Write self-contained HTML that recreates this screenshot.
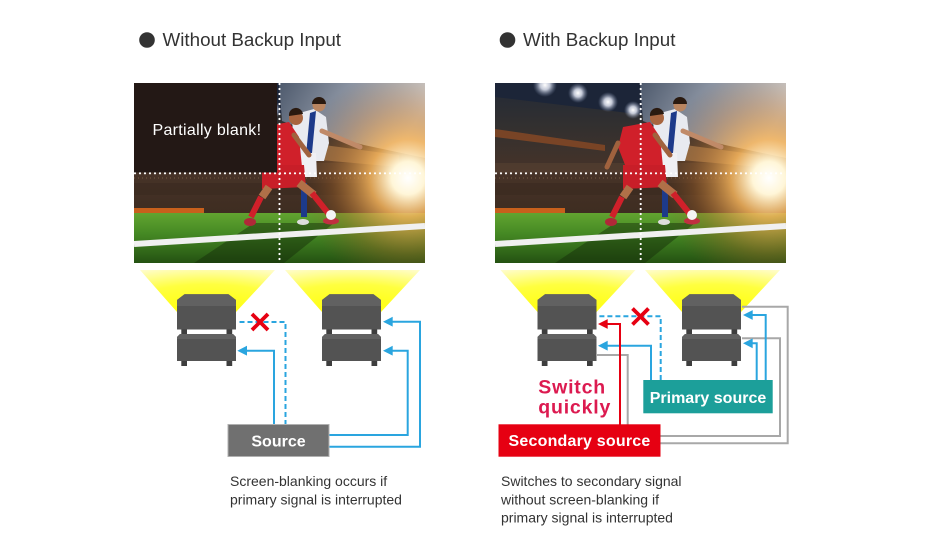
<!DOCTYPE html>
<html><head><meta charset="utf-8">
<style>
html,body{margin:0;padding:0;background:#fff;}
svg{display:block;}
text{font-family:"Liberation Sans",Arial,sans-serif;}
</style></head><body>
<svg width="926" height="550" viewBox="0 0 926 550" xmlns="http://www.w3.org/2000/svg">
<defs>
 <linearGradient id="stand" x1="0" y1="0" x2="0" y2="1">
  <stop offset="0" stop-color="#222a38"/>
  <stop offset="0.25" stop-color="#33302f"/>
  <stop offset="0.5" stop-color="#473328"/>
  <stop offset="0.75" stop-color="#3d2c20"/>
  <stop offset="1" stop-color="#30231a"/>
 </linearGradient>
 <linearGradient id="sky" x1="0" y1="0" x2="1" y2="0.3">
  <stop offset="0" stop-color="#4e5a6d"/>
  <stop offset="0.5" stop-color="#9098a6"/>
  <stop offset="1" stop-color="#dadcde"/>
 </linearGradient>
 <radialGradient id="sun" cx="274" cy="95" r="110" gradientUnits="userSpaceOnUse">
  <stop offset="0" stop-color="#ffffff"/>
  <stop offset="0.15" stop-color="#fff6d8"/>
  <stop offset="0.35" stop-color="#f3b25a" stop-opacity="0.85"/>
  <stop offset="0.7" stop-color="#b06a2a" stop-opacity="0.35"/>
  <stop offset="1" stop-color="#7a4a20" stop-opacity="0"/>
 </radialGradient>
 <linearGradient id="grass" x1="0" y1="0" x2="0" y2="1">
  <stop offset="0" stop-color="#62a430"/>
  <stop offset="0.4" stop-color="#468a24"/>
  <stop offset="1" stop-color="#245212"/>
 </linearGradient>
 <radialGradient id="lamp">
  <stop offset="0" stop-color="#ffffff"/>
  <stop offset="0.4" stop-color="#eef2ff" stop-opacity="0.8"/>
  <stop offset="1" stop-color="#8090b0" stop-opacity="0"/>
 </radialGradient>
 <radialGradient id="beamg" cx="0.5" cy="1" r="1.2">
  <stop offset="0" stop-color="#ffff00"/>
  <stop offset="0.55" stop-color="#ffff40"/>
  <stop offset="1" stop-color="#fffce8"/>
 </radialGradient>
 <clipPath id="pc"><rect width="291" height="180"/></clipPath>

 <g id="photo">
  <g clip-path="url(#pc)">
   <rect width="291" height="180" fill="url(#stand)"/>
   <polygon points="0,0 150,0 150,32 0,14" fill="#1c2538"/>
   <polygon points="145,0 291,0 291,75 230,62 175,48 148,38" fill="url(#sky)"/>
   <polygon points="0,46 110,62 110,68 0,54" fill="#8a4a24" opacity="0.8"/>
   <rect x="0" y="80" width="291" height="10" fill="#5a4434" opacity="0.5"/>
   <line x1="0" y1="95" x2="291" y2="95" stroke="#a08060" stroke-width="1" stroke-dasharray="1 3" opacity="0.5"/>
   <rect x="0" y="100" width="291" height="12" fill="#3a2a20" opacity="0.6"/>
   <polygon points="175,60 265,72 265,84 175,76" fill="#8c6a48"/>
   <rect x="0" y="125" width="70" height="5" fill="#c8601c"/>
   <rect x="0" y="130" width="291" height="50" fill="url(#grass)"/>
   <rect width="291" height="180" fill="url(#sun)"/>
   <polygon points="60,180 120,140 200,140 150,180" fill="#142a08" opacity="0.45"/>
   <path d="M0,161 L291,143" stroke="#f0f0f0" stroke-width="6"/>
   <circle cx="50" cy="2" r="12" fill="url(#lamp)"/>
   <circle cx="83" cy="10" r="10" fill="url(#lamp)"/>
   <circle cx="113" cy="19" r="10" fill="url(#lamp)"/>
   <circle cx="138" cy="27" r="9" fill="url(#lamp)"/>
   <!-- white player -->
   <polygon points="158,32 180,26 192,34 195,60 190,78 160,78" fill="#e8eaf0"/>
   <polygon points="176,30 182,28 178,70 172,72" fill="#1d3a8a"/>
   <path d="M188,48 L226,64" stroke="#c08a68" stroke-width="5" stroke-linecap="round"/>
   <circle cx="185" cy="22" r="6.5" fill="#b98560"/>
   <path d="M178,21 a7,7 0 0 1 14,0 z" fill="#2a1a10"/>
   <polygon points="158,70 182,70 183,94 160,94" fill="#f0f0f4"/>
   <rect x="167" y="100" width="6" height="34" fill="#1d3a8a"/>
   <ellipse cx="169" cy="139" rx="6" ry="3" fill="#dddddd"/>
   <!-- red player -->
   <polygon points="128,44 155,39 165,54 168,84 132,87 123,64" fill="#d0202a"/>
   <path d="M123,60 L112,84" stroke="#a0623e" stroke-width="5" stroke-linecap="round"/>
   <path d="M160,52 L175,72" stroke="#a0623e" stroke-width="5" stroke-linecap="round"/>
   <circle cx="162" cy="35" r="7" fill="#a8653f"/>
   <path d="M155,33 a7,7 0 0 1 14,-2 z" fill="#2a1a10"/>
   <polygon points="128,82 170,82 172,104 128,106" fill="#c81e28"/>
   <path d="M165,100 L180,112" stroke="#b07048" stroke-width="8"/>
   <path d="M135,104 L128,114" stroke="#b07048" stroke-width="8"/>
   <path d="M178,110 L198,135" stroke="#d0202a" stroke-width="6"/>
   <path d="M127,114 L117,134" stroke="#d0202a" stroke-width="6"/>
   <ellipse cx="197" cy="138" rx="8" ry="3.5" fill="#c03040"/>
   <ellipse cx="116" cy="139" rx="6" ry="4" fill="#b02838"/>
   <circle cx="197" cy="132" r="5" fill="#f4f4f4"/>
  </g>
 </g>

 <g id="beam">
  <polygon points="-37,270 98,270 59,312 0,312" fill="url(#beamg)"/>
 </g>

 <g id="proj">
  <polygon points="7.5,294.3 51.5,294.3 59,300 59,329.5 0,329.5 0,300" fill="#535353"/>
  <polygon points="7.5,294.3 51.5,294.3 59,300 59,306 0,306 0,300" fill="#616161"/>
  <rect x="4.3" y="329.5" width="5.7" height="4.5" fill="#3e3e3e"/>
  <rect x="49.5" y="329.5" width="5.7" height="4.5" fill="#3e3e3e"/>
  <polygon points="3,334 56,334 59,337 59,361 0,361 0,337" fill="#535353"/>
  <polygon points="3,334 56,334 59,337 59,339 0,339 0,337" fill="#616161"/>
  <rect x="4.3" y="361" width="5.7" height="5" fill="#3e3e3e"/>
  <rect x="49.5" y="361" width="5.7" height="5" fill="#3e3e3e"/>
 </g>
</defs>

<!-- Titles -->
<circle cx="147" cy="40" r="7.8" fill="#333"/>
<text x="162.5" y="46" font-size="18.8" fill="#333">Without Backup Input</text>
<circle cx="507.5" cy="40" r="7.8" fill="#333"/>
<text x="523" y="46" font-size="18.8" fill="#333">With Backup Input</text>

<!-- Left image -->
<use href="#photo" transform="translate(134,83)"/>
<rect x="134" y="83" width="143" height="89.5" fill="#231815"/>
<text x="152.5" y="135" font-size="16" fill="#fff" letter-spacing="0.3">Partially blank!</text>
<line x1="135" y1="173.3" x2="425" y2="173.3" stroke="#fff" stroke-width="2.2" stroke-linecap="round" stroke-dasharray="0 5"/>
<line x1="279.5" y1="84" x2="279.5" y2="263" stroke="#fff" stroke-width="2.2" stroke-linecap="round" stroke-dasharray="0 5"/>

<!-- Right image -->
<use href="#photo" transform="translate(495,83)"/>
<line x1="496" y1="173.3" x2="786" y2="173.3" stroke="#fff" stroke-width="2.2" stroke-linecap="round" stroke-dasharray="0 5"/>
<line x1="640.7" y1="84" x2="640.7" y2="263" stroke="#fff" stroke-width="2.2" stroke-linecap="round" stroke-dasharray="0 5"/>

<!-- Beams -->
<use href="#beam" transform="translate(177,0)"/>
<use href="#beam" transform="translate(322,0)"/>
<use href="#beam" transform="translate(537.5,0)"/>
<use href="#beam" transform="translate(682,0)"/>

<!-- Projectors -->
<use href="#proj" transform="translate(177,0)"/>
<use href="#proj" transform="translate(322,0)"/>
<use href="#proj" transform="translate(537.5,0)"/>
<use href="#proj" transform="translate(682,0)"/>

<!-- LEFT PANEL CONNECTORS -->
<g fill="none" stroke="#2aa5df" stroke-width="2">
 <path d="M274,425 V350.7 H245"/>
 <path d="M285.5,425 V322 H237" stroke-dasharray="5 3"/>
 <path d="M329,435 H407.7 V350.7 H391"/>
 <path d="M329,446.7 H420 V321.7 H391"/>
</g>
<g fill="#2aa5df">
 <polygon points="237.3,350.7 247,345.8 247,355.6"/>
 <polygon points="383,350.7 392.7,345.8 392.7,355.6"/>
 <polygon points="383,321.7 392.7,316.8 392.7,326.6"/>
</g>
<g stroke="#e60012" stroke-width="3.8">
 <line x1="252" y1="314" x2="268" y2="330"/>
 <line x1="268" y1="314" x2="252" y2="330"/>
</g>
<rect x="228" y="424.5" width="101" height="32" fill="#707070" stroke="#b0b0b0" stroke-width="1"/>
<text x="278.5" y="446.5" font-size="16" font-weight="bold" fill="#fff" text-anchor="middle">Source</text>

<text x="230" y="486" font-size="14" fill="#333">Screen-blanking occurs if</text>
<text x="230" y="504.3" font-size="14" fill="#333">primary signal is interrupted</text>

<!-- RIGHT PANEL CONNECTORS -->
<g fill="none" stroke="#a8a8a8" stroke-width="2">
 <path d="M597,355 H627.7 V425"/>
 <path d="M742,306.7 H787.7 V443.3 H660"/>
 <path d="M742,338.3 H780 V436 H660"/>
</g>
<g fill="none" stroke="#2aa5df" stroke-width="2">
 <path d="M660.7,380 V316.3 H597" stroke-dasharray="5 3"/>
 <path d="M651,380 V345.7 H606"/>
 <path d="M756.7,380 V343.3 H751"/>
 <path d="M765.7,380 V315 H751"/>
</g>
<g fill="#2aa5df">
 <polygon points="598,345.7 607.7,340.8 607.7,350.6"/>
 <polygon points="743,343.3 752.7,338.4 752.7,348.2"/>
 <polygon points="743,315 752.7,310.1 752.7,319.9"/>
</g>
<path d="M620,425 V324 H606" fill="none" stroke="#e60012" stroke-width="2"/>
<polygon points="598,324 607.7,319.1 607.7,328.9" fill="#e60012"/>
<g stroke="#e60012" stroke-width="3.8">
 <line x1="632.5" y1="308.5" x2="648.5" y2="324.5"/>
 <line x1="648.5" y1="308.5" x2="632.5" y2="324.5"/>
</g>

<rect x="643.3" y="380" width="129.4" height="33.3" fill="#1c9f9a"/>
<text x="708" y="402.8" font-size="16" font-weight="bold" fill="#fff" text-anchor="middle">Primary source</text>

<text x="538.3" y="393.3" font-size="19.5" font-weight="bold" fill="#dc1a50" letter-spacing="0.8">Switch</text>
<text x="538.3" y="413.3" font-size="19.5" font-weight="bold" fill="#dc1a50" letter-spacing="0.8">quickly</text>

<rect x="498.5" y="424.3" width="162" height="32.4" fill="#e60012"/>
<text x="579.5" y="446" font-size="16" font-weight="bold" fill="#fff" text-anchor="middle" letter-spacing="0.2">Secondary source</text>

<text x="501" y="486" font-size="14" fill="#333">Switches to secondary signal</text>
<text x="501" y="504.3" font-size="14" fill="#333">without screen-blanking if</text>
<text x="501" y="522.6" font-size="14" fill="#333">primary signal is interrupted</text>
</svg>
</body></html>
